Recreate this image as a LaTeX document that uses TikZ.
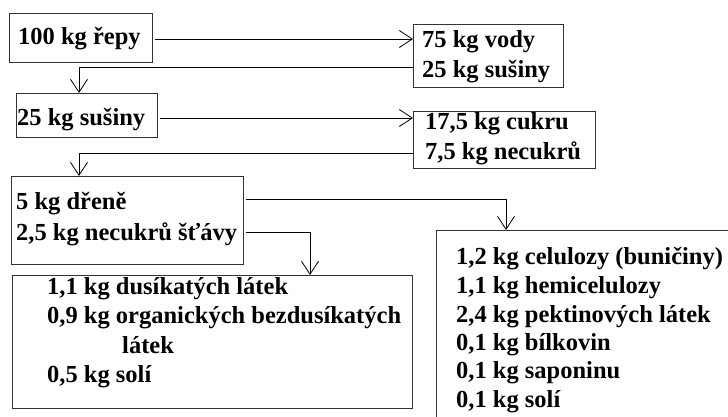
\documentclass[tikz,border=0pt]{standalone}
\usepackage{fontspec}
\setmainfont{Liberation Serif}
\usetikzlibrary{arrows.meta}
\definecolor{boxgray}{HTML}{333333}
\begin{document}
\begin{tikzpicture}[x=1pt,y=1pt,
  box/.style={draw=boxgray, line width=0.8pt, inner sep=0pt, anchor=north west},
  txt/.style={anchor=base west, inner sep=0pt, font=\fontsize{24.5}{29}\selectfont\bfseries},
  arr/.style={line width=0.8pt, -{Straight Barb[length=13pt,width=17pt,line width=0.8pt]}}]
\useasboundingbox (0,0) rectangle (728,-417);
\clip (0,0) rectangle (728,-417);
% boxes
\node[box, minimum width=143pt, minimum height=49pt] (b1) at (9,-13) {};
\node[box, minimum width=150pt, minimum height=63pt] (b2) at (413,-24) {};
\node[box, minimum width=141pt, minimum height=44pt] (b3) at (16,-93) {};
\node[box, minimum width=182pt, minimum height=57pt] (b4) at (413,-111) {};
\node[box, minimum width=232pt, minimum height=88pt] (b5) at (11,-176) {};
\node[box, minimum width=400pt, minimum height=133pt] (b6) at (12,-275) {};
\node[box, minimum width=320pt, minimum height=220pt] (b7) at (436,-230) {};
% texts
\node[txt] (t1) at (18,-45) {100 kg řepy};
\node[txt] (t2a) at (422,-48) {75 kg vody};
\node[txt] (t2b) at (422,-78) {25 kg sušiny};
\node[txt] (t3) at (17,-125) {25 kg sušiny};
\node[txt] (t4a) at (425,-130) {17,5 kg cukru};
\node[txt] (t4b) at (425,-159) {7,5 kg necukrů};
\node[txt] (t5a) at (16,-209) {5 kg dřeně};
\node[txt] (t5b) at (16,-240) {2,5 kg necukrů šťávy};
\node[txt] (t6a) at (47,-294) {1,1 kg dusíkatých látek};
\node[txt] (t6b) at (47,-323) {0,9 kg organických bezdusíkatých};
\node[txt] (t6c) at (122,-353) {látek};
\node[txt] (t6d) at (47,-382) {0,5 kg solí};
\node[txt] (t7a) at (456,-264) {1,2 kg celulozy (buničiny)};
\node[txt] (t7b) at (456,-293) {1,1 kg hemicelulozy};
\node[txt] (t7c) at (456,-322) {2,4 kg pektinových látek};
\node[txt] (t7d) at (456,-350) {0,1 kg bílkovin};
\node[txt] (t7e) at (456,-378) {0,1 kg saponinu};
\node[txt] (t7f) at (456,-407) {0,1 kg solí};
% helper coordinates
\coordinate (r1) at (0,-39);
\coordinate (r2) at (0,-67);
\coordinate (r3) at (0,-118);
\coordinate (r4) at (0,-153);
\coordinate (r5) at (0,-199);
\coordinate (r6) at (0,-232);
\coordinate (c1) at (79,0);
\coordinate (c2) at (506,0);
\coordinate (c3) at (310,0);
% connectors
\draw[arr] ([xshift=2pt]b1.east |- r1) -- (b2.west |- r1);
\draw[arr] (b2.west |- r2) -| (b3.north -| c1);
\draw[arr] ([xshift=2pt]b3.east |- r3) -- (b4.west |- r3);
\draw[arr] (b4.west |- r4) -| (b5.north -| c1);
\draw[arr] ([xshift=2pt]b5.east |- r5) -| (b7.north -| c2);
\draw[arr] ([xshift=2pt]b5.east |- r6) -| (b6.north -| c3);
\end{tikzpicture}
\end{document}
